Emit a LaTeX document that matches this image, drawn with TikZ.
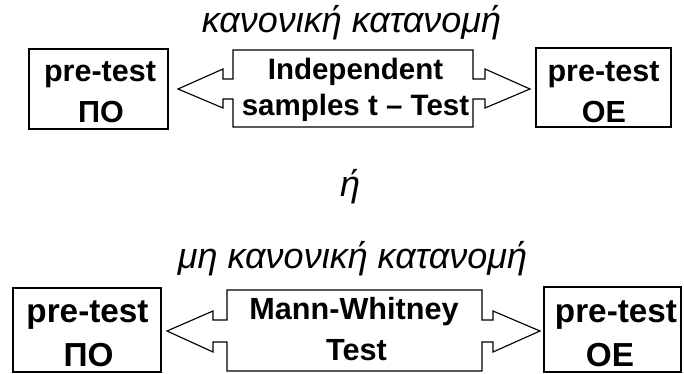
\documentclass[tikz,border=0pt]{standalone}
\usepackage{fontspec}
\setmainfont{Liberation Sans}
\begin{document}
\begin{tikzpicture}[x=1pt,y=-1pt,
  outline/.style={draw=black, line width=1.15pt},
  box/.style={outline, inner sep=0pt},
  boxtext/.style={anchor=base, inner sep=0pt, font=\bfseries\fontsize{30.5}{36}\selectfont},
  bigboxtext/.style={anchor=base, inner sep=0pt, text depth=0pt, font=\bfseries\fontsize{33.3}{40}\selectfont},
  arrowtext/.style={anchor=base, inner sep=0pt, font=\bfseries\fontsize{29.5}{36}\selectfont},
  mwtext/.style={anchor=base, inner sep=0pt, font=\bfseries\fontsize{30.6}{36}\selectfont},
  heading/.style={anchor=base, inner sep=0pt, font=\itshape\fontsize{36}{42}\selectfont}]
\useasboundingbox (0,0) rectangle (684,374);

% ---------- normal distribution: independent samples t-test ----------
\node[heading] (h1) at (351.5,33) {κανονική κατανομή};

\node[box, minimum width=139pt, minimum height=80pt] (poA) at (98.5,89) {};
\node[boxtext] (poA1) at (100,82) {pre-test};
\node[boxtext] (poA2) at (101,123) {ΠΟ};

\node[box, minimum width=135pt, minimum height=79pt] (oeA) at (603.5,87.5) {};
\node[boxtext] (oeA1) at (603.5,82) {pre-test};
\node[boxtext] (oeA2) at (604,123) {ΟΕ};

\draw[outline] (178,89) coordinate (tipAL) -- (223,69) -- (223,79) -- (233,79) -- (233,50)
  -- (473,50) -- (473,79) -- (485,79) -- (485,69) -- (530,89) coordinate (tipAR)
  -- (485,108) -- (485,99) -- (473,99) -- (473,127) -- (233,127) -- (233,99)
  -- (223,99) -- (223,108) -- cycle;
\node[arrowtext] (tt1) at (355.5,79.5) {Independent};
\node[arrowtext] (tt2) at (355.5,115.5) {samples t – Test};

% ---------- "or" ----------
\node[heading] (or) at (350,196) {ή};

% ---------- non-normal distribution: Mann-Whitney ----------
\node[heading] (h2) at (352.5,268) {μη κανονική κατανομή};

\node[box, minimum width=148pt, minimum height=84pt] (poB) at (87,330) {};
\node[bigboxtext] (poB1) at (87.5,322) {pre-test};
\node[bigboxtext] (poB2) at (88.5,366) {ΠΟ};

\node[box, minimum width=137pt, minimum height=85pt] (oeB) at (612.5,329.5) {};
\node[bigboxtext] (oeB1) at (616,322) {pre-test};
\node[bigboxtext] (oeB2) at (610,366) {ΟΕ};

\draw[outline] (167,331) coordinate (tipBL) -- (213,311) -- (213,320) -- (227,320) -- (227,290)
  -- (482,290) -- (482,320) -- (493,320) -- (493,311) -- (540,331) coordinate (tipBR)
  -- (493,352) -- (493,342) -- (482,342) -- (482,371) -- (227,371) -- (227,342)
  -- (213,342) -- (213,352) -- cycle;
\node[mwtext] (mw1) at (354,319) {Mann-Whitney};
\node[mwtext] (mw2) at (356.5,360) {Test};
\end{tikzpicture}
\end{document}
